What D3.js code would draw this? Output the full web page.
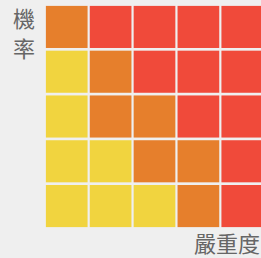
<!DOCTYPE html>
<html>
<head>
<meta charset="utf-8">
<script src="https://cdn.jsdelivr.net/npm/d3@7"></script>
<style>
  html, body { margin: 0; padding: 0; background: #efefef; overflow: hidden; }
</style>
</head>
<body>
<div class="RiskMatrix"></div>
<script>
// probability rows (top = highest), severity columns (left = lowest)
const probability = ["5", "4", "3", "2", "1"];
const severity = ["1", "2", "3", "4", "5"];
// risk level per cell, row by row: 1 = low, 2 = medium, 3 = high
const riskLevels = [
  [2, 3, 3, 3, 3],
  [1, 2, 3, 3, 3],
  [1, 2, 2, 3, 3],
  [1, 1, 2, 2, 3],
  [1, 1, 1, 2, 3]
];
const levelNames = [1, 2, 3];
const levelColors = ["#f1d43f", "#e67f2c", "#f04a3a"];
const yLabel = "機率";
const xLabel = "嚴重度";

const svgWidth = 261, svgHeight = 258;
const svg = d3.select(".RiskMatrix")
  .append("svg")
  .attr("width", svgWidth)
  .attr("height", svgHeight)
  .style("display", "block");

svg.append("rect")
  .attr("width", svgWidth)
  .attr("height", svgHeight)
  .attr("fill", "#efefef");

const xScale = d3.scaleBand()
  .domain(severity)
  .range([45, 264])
  .paddingInner(0.05)
  .paddingOuter(0.02);

const yScale = d3.scaleBand()
  .domain(probability)
  .range([5, 228])
  .paddingInner(0.06)
  .paddingOuter(0.02);

const colorScale = d3.scaleOrdinal()
  .domain(levelNames)
  .range(levelColors);

const cells = [];
riskLevels.forEach((row, i) => {
  row.forEach((v, j) => {
    cells.push({ p: probability[i], s: severity[j], v: v });
  });
});

svg.selectAll("rect.cell")
  .data(cells)
  .enter().append("rect")
  .attr("class", "cell")
  .attr("x", d => xScale(d.s))
  .attr("y", d => yScale(d.p))
  .attr("width", xScale.bandwidth())
  .attr("height", yScale.bandwidth())
  .attr("fill", d => colorScale(d.v));

// vertical y label, one character per line
svg.append("g")
  .selectAll("text")
  .data(Array.from(yLabel))
  .enter().append("text")
  .attr("x", 24)
  .attr("y", (d, i) => 27 + i * 30)
  .attr("text-anchor", "middle")
  .attr("font-family", "Noto Sans CJK TC")
  .attr("font-size", "22px")
  .attr("fill", "#666")
  .text(d => d);

svg.append("text")
  .attr("x", 260)
  .attr("y", 252)
  .attr("text-anchor", "end")
  .attr("font-family", "Noto Sans CJK TC")
  .attr("font-size", "22px")
  .attr("fill", "#666")
  .text(xLabel);
</script>
</body>
</html>
